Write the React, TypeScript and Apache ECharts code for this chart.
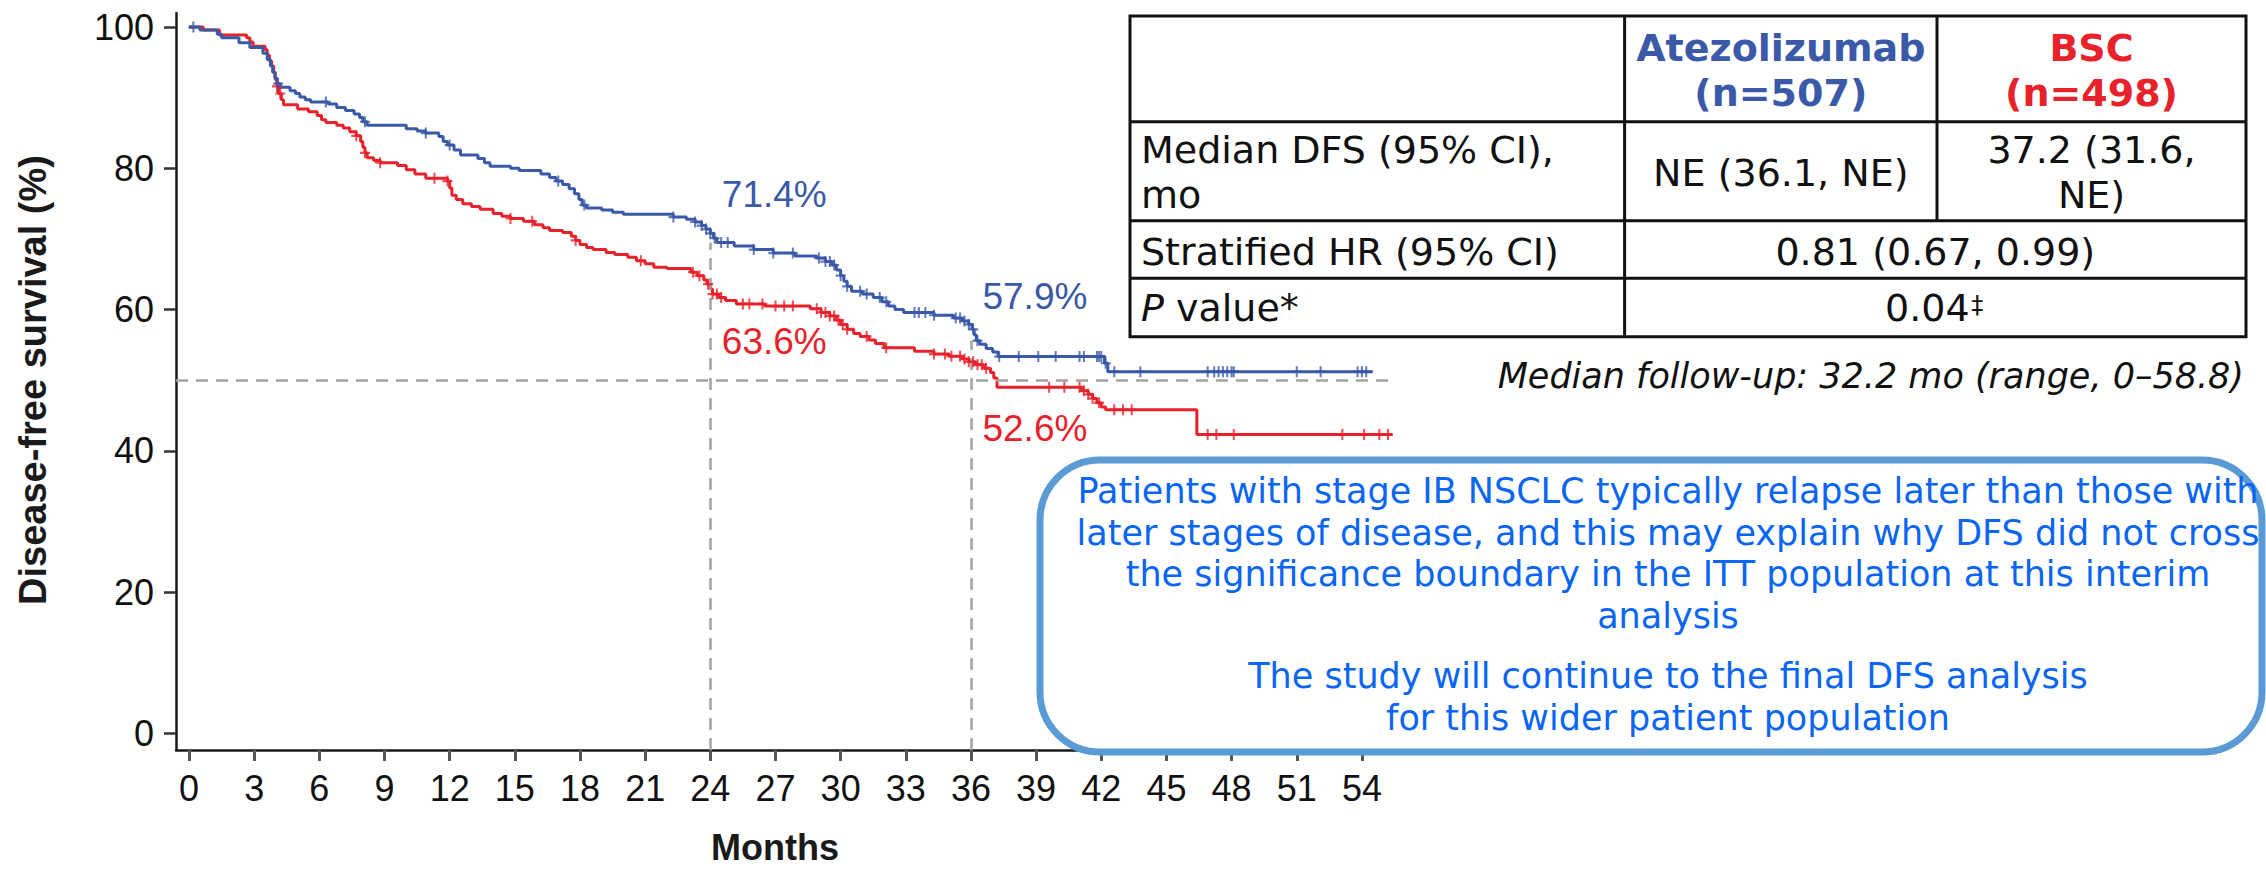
import React, { useEffect, useRef } from "react";
import * as echarts from "echarts";

// ---------- data ----------
const monthTicks = [0, 3, 6, 9, 12, 15, 18, 21, 24, 27, 30, 33, 36, 39, 42, 45, 48, 51, 54];
const survivalTicks = [0, 20, 40, 60, 80, 100];

const atezoTime = [0, 0.5, 1.3, 1.5, 2.3, 2.8, 3.4, 3.6, 3.75, 3.85, 3.95, 4.05, 4.2, 4.65, 4.9, 5.1, 5.35, 5.6, 6.4, 6.8, 7.2, 7.6, 7.85, 8.0, 8.2, 10.0, 10.5, 10.9, 11.5, 11.7, 11.9, 12.2, 12.5, 13.3, 13.6, 13.86, 14.8, 15.2, 16.2, 16.6, 16.9, 17.2, 17.5, 17.75, 17.95, 18.1, 18.3, 19.0, 19.5, 20.0, 22.3, 22.9, 23.3, 23.6, 23.8, 24.0, 24.15, 24.3, 25.1, 26.0, 26.9, 27.9, 28.9, 29.3, 29.6, 29.8, 30.0, 30.15, 30.3, 30.5, 31.0, 31.5, 31.9, 32.2, 32.5, 32.9, 34.3, 35.2, 35.6, 35.9, 36.05, 36.15, 36.25, 36.4, 36.7, 37.0, 37.25, 42.15, 42.3, 54.5];
const atezoSurv = [100, 99.6, 99.0, 98.5, 97.8, 97.1, 96.3, 95.4, 94.5, 93.6, 92.8, 92.0, 91.5, 91.0, 90.6, 90.1, 89.7, 89.4, 89.1, 88.6, 88.2, 87.7, 87.2, 86.6, 86.1, 85.6, 85.3, 85.0, 84.5, 83.8, 83.3, 82.6, 81.9, 81.4, 80.8, 80.3, 80.0, 79.7, 79.2, 78.7, 78.2, 77.7, 77.1, 76.4, 75.6, 74.8, 74.4, 74.1, 73.8, 73.5, 73.1, 72.8, 72.4, 71.9, 71.4, 70.8, 70.1, 69.5, 69.0, 68.5, 68.0, 67.6, 67.3, 66.8, 66.3, 65.6, 64.8, 64.0, 63.3, 62.6, 62.2, 61.7, 61.1, 60.5, 60.0, 59.6, 59.2, 58.8, 58.4, 57.9, 57.2, 56.4, 55.6, 55.1, 54.5, 54.0, 53.35, 52.4, 51.2, 51.2];

const bscTime = [0, 0.65, 1.4, 2.65, 2.8, 2.95, 3.5, 3.6, 3.7, 3.8, 3.9, 3.97, 4.05, 4.12, 4.25, 4.35, 5.0, 5.5, 5.9, 6.1, 6.3, 6.8, 7.1, 7.4, 7.7, 7.9, 8.0, 8.1, 8.2, 8.5, 8.8, 9.6, 10.0, 10.4, 10.9, 11.9, 12.0, 12.1, 12.3, 12.6, 13.0, 13.4, 14.0, 14.4, 14.8, 15.4, 15.9, 16.3, 16.6, 17.2, 17.6, 17.8, 18.0, 18.3, 18.6, 19.2, 19.6, 20.2, 20.6, 21.0, 21.4, 22.0, 23.1, 23.4, 23.7, 23.85, 24.0, 24.1, 24.4, 24.7, 25.2, 26.5, 28.6, 29.1, 29.5, 29.8, 30.0, 30.3, 30.6, 30.9, 31.3, 31.6, 32.0, 33.4, 34.3, 35.0, 35.6, 35.9, 36.2, 36.6, 36.9, 37.05, 37.2, 41.1, 41.4, 41.6, 41.8, 42.0, 42.2, 46.4, 55.4];
const bscSurv = [100, 99.6, 98.9, 98.5, 97.9, 97.3, 96.8, 96.0, 95.2, 94.5, 93.6, 92.6, 91.6, 90.6, 89.7, 89.0, 88.4, 88.0, 87.5, 86.9, 86.5, 86.1, 85.7, 85.2, 84.6, 83.8, 83.0, 82.2, 81.5, 81.1, 80.8, 80.4, 79.8, 79.2, 78.6, 78.2, 77.2, 76.2, 75.6, 75.0, 74.6, 74.2, 73.6, 73.2, 72.9, 72.5, 72.0, 71.6, 71.2, 70.9, 70.4, 69.8, 69.2, 68.8, 68.5, 68.1, 67.8, 67.4, 66.9, 66.5, 66.0, 65.8, 65.3, 64.8, 64.2, 63.6, 62.9, 62.2, 61.7, 61.3, 60.8, 60.5, 60.1, 59.6, 59.1, 58.5, 57.9, 57.2, 56.6, 56.2, 55.7, 55.2, 54.6, 54.1, 53.7, 53.4, 53.0, 52.6, 52.2, 51.7, 51.1, 50.3, 49.0, 48.5, 48.0, 47.4, 46.8, 46.2, 45.8, 42.3, 42.3];

const atezoCensor = [0.2, 4.1, 6.3, 8.1, 10.9, 12.0, 17.0, 18.2, 22.3, 23.3, 23.6, 23.8, 24.0, 24.2, 24.5, 24.8, 26.0, 26.9, 27.8, 29.0, 29.3, 29.5, 29.7, 30.0, 30.3, 30.9, 31.2, 31.8, 32.1, 33.4, 33.6, 33.9, 34.3, 35.3, 35.5, 35.7, 35.9, 36.1, 36.3, 37.3, 38.2, 39.1, 39.9, 41.0, 41.2, 41.8, 41.9, 42.0, 42.2, 42.6, 43.8, 46.9, 47.2, 47.4, 47.6, 47.8, 48.0, 48.1, 51.0, 52.1, 53.8, 54.0, 54.2];
const bscCensor = [4.05, 4.2, 7.7, 8.1, 8.8, 11.3, 11.9, 14.8, 15.8, 17.8, 20.8, 23.2, 23.5, 23.9, 24.1, 24.3, 24.5, 25.5, 25.8, 26.4, 27.0, 27.4, 27.8, 28.9, 29.1, 29.3, 29.5, 29.7, 29.9, 30.1, 30.3, 31.2, 32.1, 34.3, 34.8, 35.1, 35.5, 35.7, 35.9, 36.1, 36.3, 36.5, 36.7, 39.6, 40.3, 41.0, 41.2, 41.4, 41.6, 41.9, 42.6, 43.0, 43.4, 46.9, 47.3, 48.1, 53.1, 54.1, 54.8, 55.2];

const landmarkMonths = [24, 36];
const atezoLandmark = [71.4, 57.9];
const bscLandmark = [63.6, 52.6];
const medianRef = 50;
const medianRefEnd = 55.2;

const armNames = ["Atezolizumab", "BSC"];
const armN = ["(n=507)", "(n=498)"];
const medianDfsLabel = ["Median DFS (95% CI),", "mo"];
const medianDfs = [["NE (36.1, NE)"], ["37.2 (31.6,", "NE)"]];
const hrLabel = "Stratified HR (95% CI)";
const hrValue = "0.81 (0.67, 0.99)";
const pValue = "0.04";
const followUp = "Median follow-up: 32.2 mo (range, 0–58.8)";
const noteParagraph1 = [
  "Patients with stage IB NSCLC typically relapse later than those with",
  "later stages of disease, and this may explain why DFS did not cross",
  "the significance boundary in the ITT population at this interim",
  "analysis",
];
const noteParagraph2 = [
  "The study will continue to the final DFS analysis",
  "for this wider patient population",
];

// ---------- style ----------
const BLUE = "#3a59a8";
const RED = "#e8222b";
const NOTE_BLUE = "#0a66f2";
const ARIAL = '"Liberation Sans", Arial, Helvetica, sans-serif';
const VERDANA = '"DejaVu Sans", Verdana, sans-serif';

const survAt = (times: number[], surv: number[], t: number) => {
  let v = surv[0];
  for (let i = 0; i < times.length; i++) if (times[i] <= t) v = surv[i];
  return v;
};

const PLUS = "path://M4,0H6V4H10V6H6V10H4V6H0V4H4Z";

function txt(x: number, y: number, text: string, o: any = {}) {
  return {
    type: "text",
    x,
    y,
    z: 110,
    style: {
      text,
      fill: o.fill || "#111",
      fontSize: o.fontSize || 38,
      fontFamily: o.fontFamily || VERDANA,
      fontWeight: o.fontWeight || "normal",
      fontStyle: o.fontStyle || "normal",
      align: o.align || "left",
      verticalAlign: "middle",
      textAlign: o.align || "left",
      textVerticalAlign: "middle",
      rich: o.rich,
    },
    rotation: o.rotation || 0,
  };
}

function ln(x1: number, y1: number, x2: number, y2: number, w = 3) {
  return { type: "line", z: 110, shape: { x1, y1, x2, y2 }, style: { stroke: "#111", lineWidth: w } };
}

export default function App() {
  const ref = useRef<HTMLDivElement>(null);
  useEffect(() => {
    if (!ref.current) return;
    const chart = echarts.init(ref.current, null, { renderer: "svg" });

    const X_MIN = -0.6, X_MAX = 56, Y_MIN = -2.37, Y_MAX = 102;
    const atezoData = atezoTime.map((t, i) => [t, atezoSurv[i]]);
    const bscData = bscTime.map((t, i) => [t, bscSurv[i]]);
    const atezoCens = atezoCensor.map((t) => [t, survAt(atezoTime, atezoSurv, t)]);
    const bscCens = bscCensor.map((t) => [t, survAt(bscTime, bscSurv, t)]);

    const refLines: any[] = [
      [{ coord: [X_MIN, medianRef] }, { coord: [medianRefEnd, medianRef] }],
      ...landmarkMonths.map((m) => [
        { coord: [m, Y_MIN] },
        { coord: [m, survAt(atezoTime, atezoSurv, m + 0.3)] },
      ]),
    ];

    const labelOffsets = [
      [[12, -34], [12, 58]],
      [[12, -27], [12, 67]],
    ];
    const pctLabels: any[] = [];
    landmarkMonths.forEach((m, i) => {
      pctLabels.push({
        value: [m, atezoLandmark[i]],
        label: { position: labelOffsets[i][0], color: BLUE, formatter: `${atezoLandmark[i]}%` },
      });
      pctLabels.push({
        value: [m, bscLandmark[i]],
        label: { position: labelOffsets[i][1], color: RED, formatter: `${bscLandmark[i]}%` },
      });
    });

    // table geometry
    const TX = [1130, 1624.6, 1937, 2246];
    const TY = [16, 121.7, 220.7, 278.3, 336.7];
    const c1 = (TX[1] + TX[2]) / 2, c2 = (TX[2] + TX[3]) / 2, c12 = (TX[1] + TX[3]) / 2;
    const L = 1141;
    const FS = 38;
    const off = 0.35 * FS;

    const tableEls: any[] = [
      { type: "rect", z: 105, shape: { x: TX[0], y: TY[0], width: TX[3] - TX[0], height: TY[4] - TY[0] }, style: { fill: "#fff", stroke: "#111", lineWidth: 3 } },
      ln(TX[0], TY[1], TX[3], TY[1]),
      ln(TX[0], TY[2], TX[3], TY[2]),
      ln(TX[0], TY[3], TX[3], TY[3]),
      ln(TX[1], TY[0], TX[1], TY[4]),
      ln(TX[2], TY[0], TX[2], TY[2]),
      txt(c1, 61.7 - off, armNames[0], { align: "center", fontWeight: "bold", fill: BLUE }),
      txt(c1, 106.7 - off, armN[0], { align: "center", fontWeight: "bold", fill: BLUE }),
      txt(c2, 61.7 - off, armNames[1], { align: "center", fontWeight: "bold", fill: RED }),
      txt(c2, 106.7 - off, armN[1], { align: "center", fontWeight: "bold", fill: RED }),
      txt(L, 163.3 - off, medianDfsLabel[0]),
      txt(L, 208.3 - off, medianDfsLabel[1]),
      txt(c1, 186 - off, medianDfs[0][0], { align: "center" }),
      txt(c2, 163.3 - off, medianDfs[1][0], { align: "center" }),
      txt(c2, 208.3 - off, medianDfs[1][1], { align: "center" }),
      txt(L, 265 - off, hrLabel),
      txt(c12, 265 - off, hrValue, { align: "center" }),
      txt(L, 321.7 - off, "{i|P} value*", {
        rich: {
          i: { fontStyle: "italic", fontSize: FS, fontFamily: VERDANA, fill: "#111", color: "#111" },
        },
      }),
      txt(c12 - 8, 321.7 - off, pValue, { align: "center" }),
      txt(c12 + 36, 305, "‡", { fontSize: 24 }),
      txt(2244, 388.7 - 0.35 * 35, followUp, { align: "right", fontSize: 35, fontStyle: "italic" }),
    ];

    const BOX = { x: 1040, y: 460, w: 1222, h: 292, r: 60 };
    const NCX = 1668;
    const noteBase1 = [503.3, 545, 586.7, 628.3];
    const noteBase2 = [688.3, 730];
    const NFS = 35;
    const boxEls: any[] = [
      { type: "rect", z: 100, shape: { x: BOX.x, y: BOX.y, width: BOX.w, height: BOX.h, r: BOX.r }, style: { fill: "#fff", stroke: "#5b9bd5", lineWidth: 7 } },
      ...noteParagraph1.map((s, i) => txt(NCX, noteBase1[i] - 0.35 * NFS, s, { align: "center", fontSize: NFS, fill: NOTE_BLUE })),
      ...noteParagraph2.map((s, i) => txt(NCX, noteBase2[i] - 0.35 * NFS, s, { align: "center", fontSize: NFS, fill: NOTE_BLUE })),
    ];

    const option: any = {
      animation: false,
      backgroundColor: "#ffffff",
      grid: { left: 176, top: 13, width: 1229.35, height: 737 },
      xAxis: {
        type: "value",
        min: X_MIN,
        max: X_MAX,
        axisLine: { show: true, onZero: false, lineStyle: { color: "#1a1a1a", width: 2.5 } },
        axisTick: { show: true, customValues: monthTicks, length: 11, lineStyle: { color: "#555", width: 3 } },
        axisLabel: { customValues: monthTicks, margin: 20, fontSize: 36, fontFamily: ARIAL, color: "#111" },
        splitLine: { show: false },
      },
      yAxis: {
        type: "value",
        min: Y_MIN,
        max: Y_MAX,
        axisLine: { show: true, onZero: false, lineStyle: { color: "#1a1a1a", width: 2.5 } },
        axisTick: { show: true, customValues: survivalTicks, length: 12, lineStyle: { color: "#333", width: 2.5 } },
        axisLabel: { customValues: survivalTicks, margin: 22, fontSize: 36, fontFamily: ARIAL, color: "#111" },
        splitLine: { show: false },
      },
      series: [
        {
          name: "BSC",
          type: "line",
          step: "end",
          data: bscData,
          symbol: "none",
          lineStyle: { color: RED, width: 3 },
          z: 3,
          markLine: {
            silent: true,
            symbol: "none",
            label: { show: false },
            lineStyle: { color: "#a3a3a3", width: 2.5, type: [12, 8] },
            data: refLines,
          },
        },
        {
          name: "Atezolizumab",
          type: "line",
          step: "end",
          data: atezoData,
          symbol: "none",
          lineStyle: { color: BLUE, width: 3 },
          z: 4,
        },
        {
          name: "BSC censored",
          type: "scatter",
          data: bscCens,
          symbol: PLUS,
          symbolSize: [10, 11],
          itemStyle: { color: RED, opacity: 0.8 },
          z: 5,
        },
        {
          name: "Atezolizumab censored",
          type: "scatter",
          data: atezoCens,
          symbol: PLUS,
          symbolSize: [10, 11],
          itemStyle: { color: BLUE, opacity: 0.8 },
          z: 6,
        },
        {
          name: "Landmarks",
          type: "scatter",
          data: pctLabels,
          symbolSize: 1,
          itemStyle: { color: "rgba(0,0,0,0)", opacity: 1 },
          label: {
            show: true,
            align: "left",
            verticalAlign: "middle",
            fontSize: 37,
            fontFamily: ARIAL,
            opacity: 1,
            textBorderWidth: 0,
          },
          z: 7,
        },
      ],
      graphic: {
        elements: [
          txt(33, 380, "Disease-free survival (%)", {
            align: "center",
            fontFamily: ARIAL,
            fontWeight: "bold",
            fontSize: 38,
            rotation: Math.PI / 2,
            fill: "#1a1a1a",
          }),
          txt(775, 847, "Months", {
            align: "center",
            fontFamily: ARIAL,
            fontWeight: "bold",
            fontSize: 36,
            fill: "#1a1a1a",
          }),
          ...tableEls,
          ...boxEls,
        ],
      },
    };
    chart.setOption(option);
    return () => chart.dispose();
  }, []);
  return (
    <div
      ref={ref}
      style={{ position: "absolute", left: 0, top: 0, width: 2266, height: 869, background: "#fff" }}
    />
  );
}
